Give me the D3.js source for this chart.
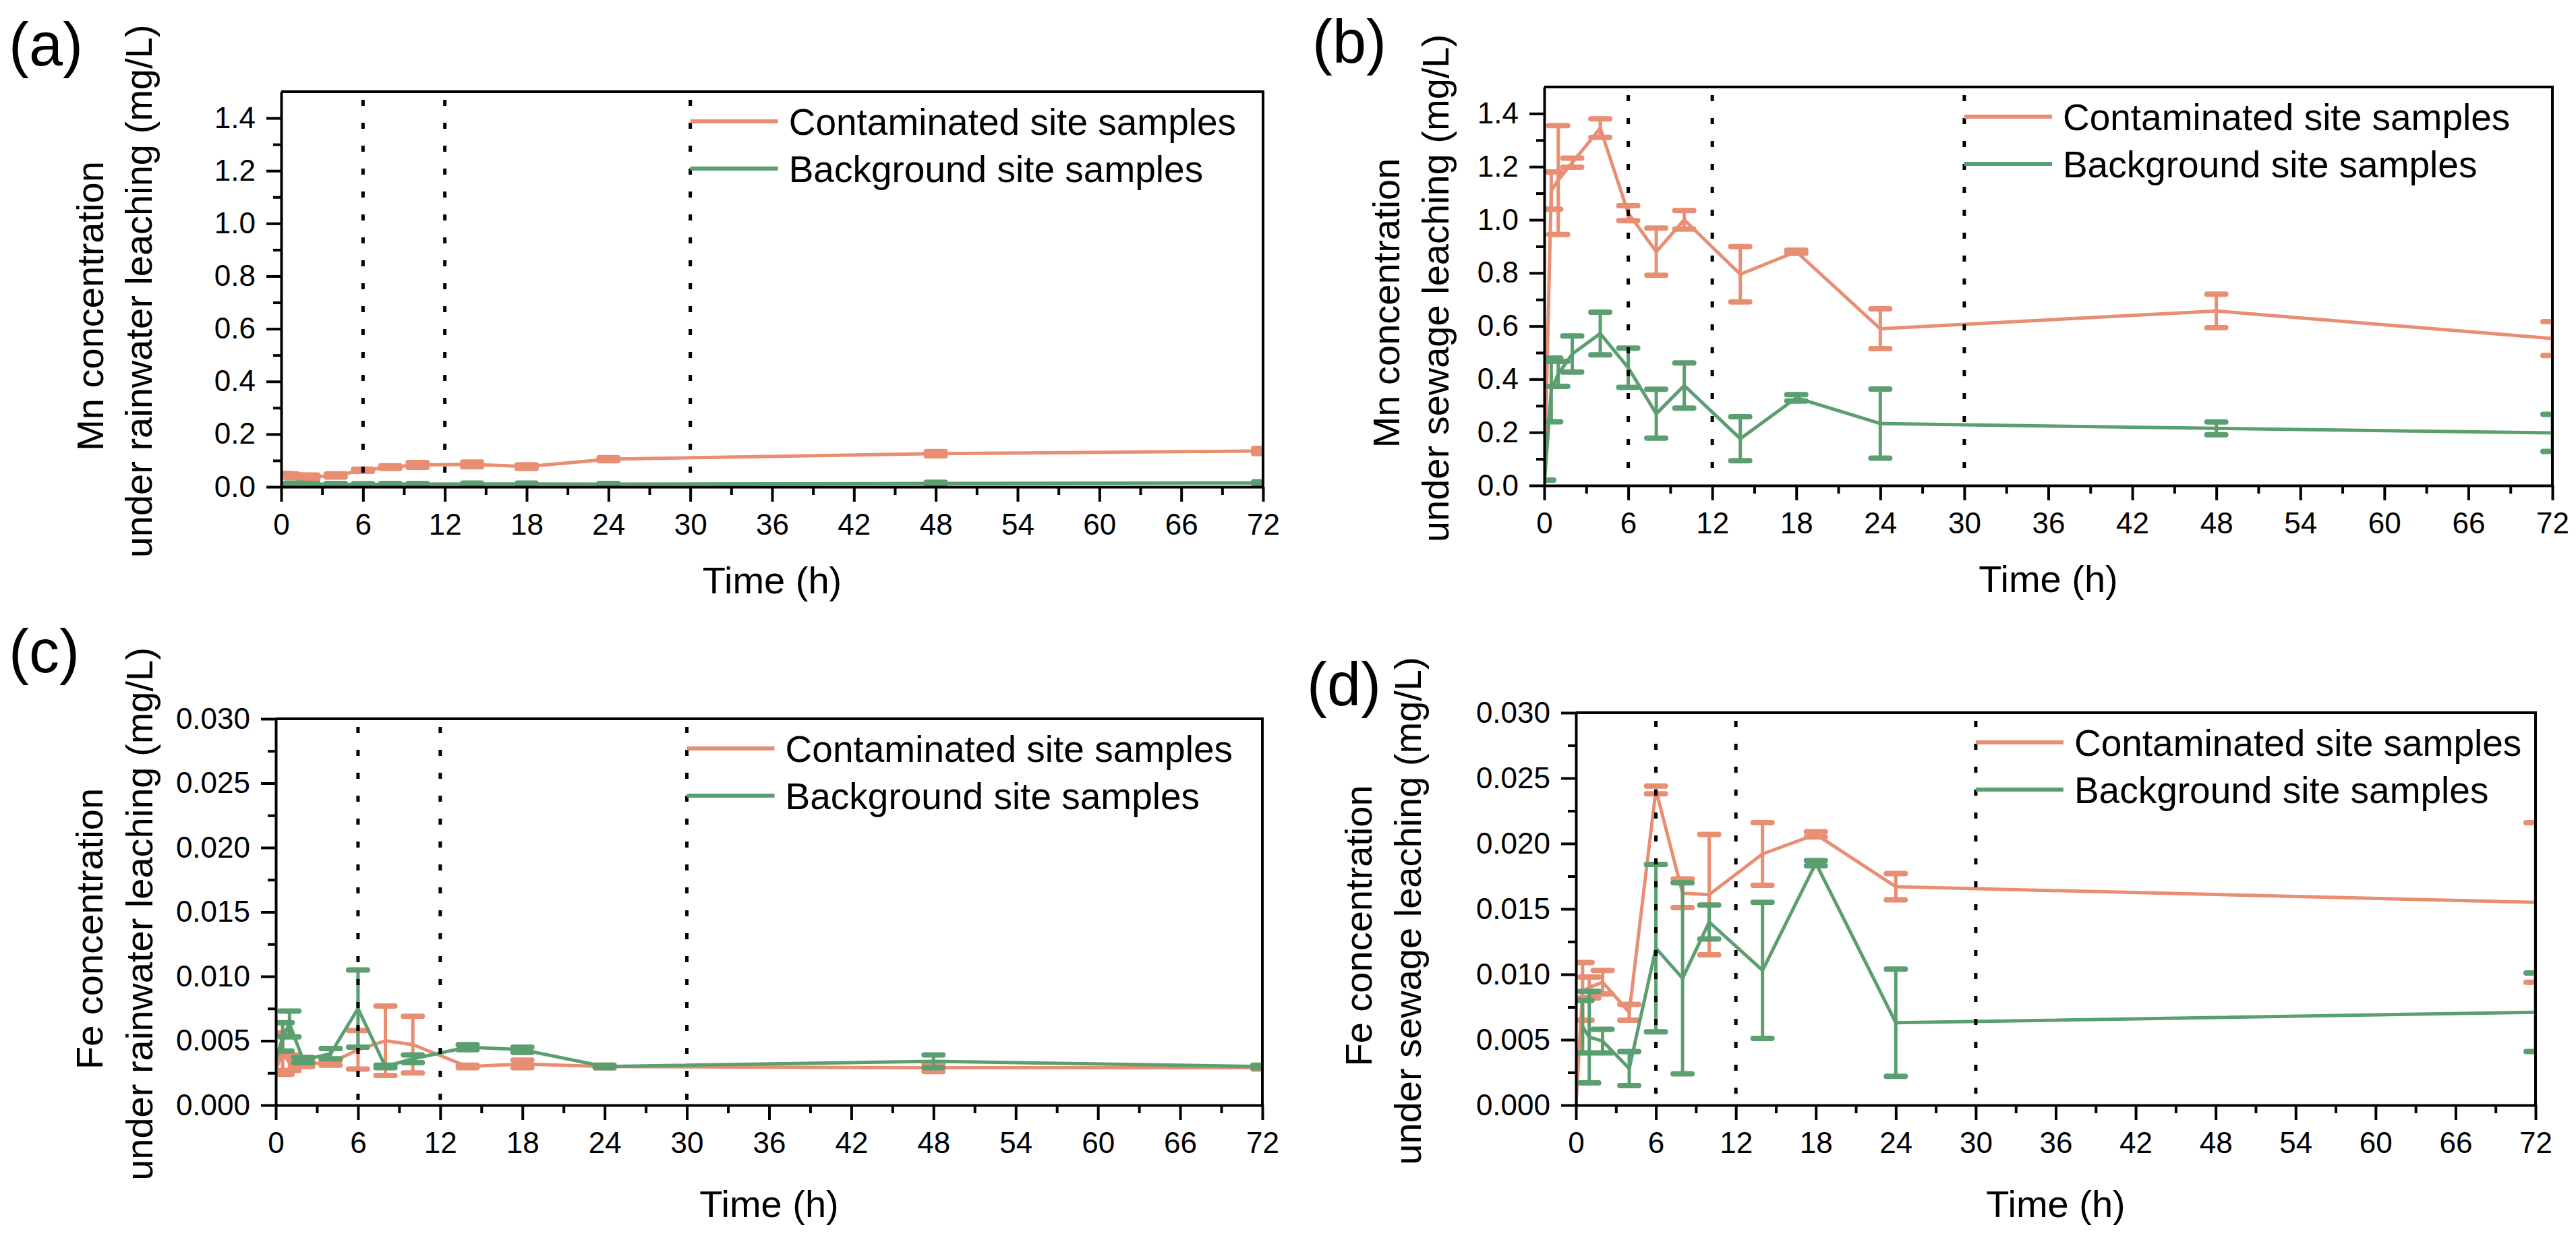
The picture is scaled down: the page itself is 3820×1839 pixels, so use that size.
<!DOCTYPE html>
<html lang="en">
<head>
<meta charset="UTF-8">
<title>Mn and Fe concentration under leaching</title>
<script src="https://d3js.org/d3.v7.min.js"></script>
<style>
  body { margin: 0; background: #fff; }
  svg text { font-family: "Liberation Sans", Arial, sans-serif; fill: #000; }
</style>
</head>
<body>
<div id="chart"></div>
<script>
// sampling times (h) shared by every panel
const timeH = [0, 0.5, 1, 2, 4, 6, 8, 10, 14, 18, 24, 48, 72];
const timeTicks = [0, 6, 12, 18, 24, 30, 36, 42, 48, 54, 60, 66, 72];
const timeMinorTicks = [3, 9, 15, 21, 27, 33, 39, 45, 51, 57, 63, 69];
const stageTimes = [6, 12, 30];
const seriesNames = ["Contaminated site samples", "Background site samples"];

const mnTicks = [0, 0.2, 0.4, 0.6, 0.8, 1.0, 1.2, 1.4];
const mnMinorTicks = [0.1, 0.3, 0.5, 0.7, 0.9, 1.1, 1.3];
const feTicks = [0, 0.005, 0.010, 0.015, 0.020, 0.025, 0.030];
const feMinorTicks = [0.0025, 0.0075, 0.0125, 0.0175, 0.0225, 0.0275];

// (a) Mn, rainwater leaching
const mnRainContam    = [0.045, 0.044, 0.040, 0.037, 0.043, 0.063, 0.075, 0.083, 0.085, 0.077, 0.105, 0.126, 0.136];
const mnRainContamErr = [0.006, 0.005, 0.005, 0.008, 0.006, 0.004, 0.005, 0.009, 0.009, 0.007, 0.006, 0.008, 0.010];
const mnRainBg        = [0.010, 0.010, 0.011, 0.010, 0.010, 0.009, 0.010, 0.010, 0.011, 0.011, 0.010, 0.013, 0.015];
const mnRainBgErr     = [0.003, 0.003, 0.003, 0.003, 0.003, 0.003, 0.003, 0.003, 0.003, 0.003, 0.003, 0.004, 0.004];

// (b) Mn, sewage leaching
const mnSewContam    = [0, 1.11, 1.15, 1.215, 1.345, 1.025, 0.88, 1.00, 0.795, 0.88, 0.59, 0.657, 0.553];
const mnSewContamErr = [0, 0.07, 0.205, 0.017, 0.035, 0.028, 0.089, 0.035, 0.104, 0.006, 0.075, 0.063, 0.064];
const mnSewBg        = [0, 0.36, 0.42, 0.495, 0.572, 0.443, 0.27, 0.376, 0.176, 0.33, 0.233, 0.215, 0.198];
const mnSewBgErr     = [0.02, 0.12, 0.047, 0.068, 0.08, 0.074, 0.092, 0.085, 0.083, 0.012, 0.13, 0.024, 0.07];

// (c) Fe, rainwater leaching
const feRainContam    = [0.0028, 0.0040, 0.0033, 0.0032, 0.0033, 0.0043, 0.0050, 0.0047, 0.0030, 0.0032, 0.0030, 0.0029, 0.0029];
const feRainContamErr = [0, 0.0016, 0.0006, 0.0002, 0.0002, 0.0015, 0.0027, 0.0022, 0.0001, 0.0003, 0.0001, 0.0003, 0.0001];
const feRainBg        = [0.0034, 0.0053, 0.0063, 0.0035, 0.0040, 0.0075, 0.0030, 0.0036, 0.0045, 0.0043, 0.0030, 0.0034, 0.0030];
const feRainBgErr     = [0, 0.0011, 0.0010, 0.0002, 0.0004, 0.0030, 0.0001, 0.0003, 0.0002, 0.0002, 0.0001, 0.0005, 0.0001];

// (d) Fe, sewage leaching (no 48 h sample)
const feSewContam    = [0, 0.0087, 0.0090, 0.0094, 0.0071, 0.0241, 0.0162, 0.0161, 0.0192, 0.0207, 0.0167, null, 0.0155];
const feSewContamErr = [0, 0.0022, 0.0008, 0.0009, 0.0006, 0.0003, 0.0011, 0.0046, 0.0024, 0.0002, 0.0010, null, 0.0061];
const feSewBg        = [null, 0.0060, 0.0052, 0.0049, 0.0028, 0.0120, 0.0097, 0.0140, 0.0103, 0.0185, 0.0063, null, 0.0071];
const feSewBgErr     = [null, 0.0020, 0.0035, 0.0009, 0.0013, 0.0064, 0.0073, 0.0013, 0.0052, 0.0002, 0.0041, null, 0.0030];

const colors = ["#E88E72", "#5B9E70"];

const panels = [
  { id: "a", label: "(a)", lx: 13, ly: 97,
    title: ["Mn concentration", "under rainwater leaching (mg/L)"], tx: [153, 225],
    left: 417, right: 1873, top: 136, bottom: 722, yMax: 1.5, fmt: ".1f",
    ticks: mnTicks, minor: mnMinorTicks,
    series: [[mnRainContam, mnRainContamErr], [mnRainBg, mnRainBgErr]] },
  { id: "b", label: "(b)", lx: 1946, ly: 93,
    title: ["Mn concentration", "under sewage leaching (mg/L)"], tx: [2075, 2148],
    left: 2290, right: 3785, top: 129, bottom: 720, yMax: 1.5, fmt: ".1f",
    ticks: mnTicks, minor: mnMinorTicks,
    series: [[mnSewContam, mnSewContamErr], [mnSewBg, mnSewBgErr]] },
  { id: "c", label: "(c)", lx: 13, ly: 997,
    title: ["Fe concentration", "under rainwater leaching (mg/L)"], tx: [152, 226],
    left: 409, right: 1872, top: 1066, bottom: 1639, yMax: 0.030, fmt: ".3f",
    ticks: feTicks, minor: feMinorTicks,
    series: [[feRainContam, feRainContamErr], [feRainBg, feRainBgErr]] },
  { id: "d", label: "(d)", lx: 1938, ly: 1046,
    title: ["Fe concentration", "under sewage leaching (mg/L)"], tx: [2034, 2107],
    left: 2337, right: 3760, top: 1057, bottom: 1639, yMax: 0.030, fmt: ".3f",
    ticks: feTicks, minor: feMinorTicks,
    series: [[feSewContam, feSewContamErr], [feSewBg, feSewBgErr]] }
];

const svg = d3.select("#chart").append("svg")
  .attr("width", 3820)
  .attr("height", 1839)
  .style("display", "block");

panels.forEach(drawPanel);

function drawPanel(p) {
  const x = d3.scaleLinear().domain([0, 72]).range([p.left, p.right]);
  const y = d3.scaleLinear().domain([0, p.yMax]).range([p.bottom, p.top]);

  svg.append("clipPath").attr("id", "clip-" + p.id)
    .append("rect")
    .attr("x", p.left).attr("y", p.top)
    .attr("width", p.right - p.left).attr("height", p.bottom - p.top);

  const plot = svg.append("g").attr("clip-path", `url(#clip-${p.id})`);

  const line = d3.line().x(d => x(d.t)).y(d => y(d.v));

  p.series.forEach(([mean, err], i) => {
    const pts = timeH.map((t, k) => ({ t: t, v: mean[k], e: err[k] }))
      .filter(d => d.v != null);

    plot.append("path")
      .datum(pts)
      .attr("fill", "none")
      .attr("stroke", colors[i])
      .attr("stroke-width", 5)
      .attr("stroke-linejoin", "round")
      .attr("d", line);

    const bars = plot.append("g")
      .attr("stroke", colors[i])
      .attr("stroke-linecap", "round")
      .selectAll("g")
      .data(pts.filter(d => d.e > 0))
      .join("g");

    bars.append("line")
      .attr("x1", d => x(d.t)).attr("x2", d => x(d.t))
      .attr("y1", d => y(d.v - d.e)).attr("y2", d => y(d.v + d.e))
      .attr("stroke-width", 5);

    bars.selectAll(".cap")
      .data(d => [{ t: d.t, c: d.v - d.e }, { t: d.t, c: d.v + d.e }])
      .join("line")
      .attr("class", "cap")
      .attr("x1", d => x(d.t) - 14).attr("x2", d => x(d.t) + 14)
      .attr("y1", d => y(d.c)).attr("y2", d => y(d.c))
      .attr("stroke-width", 8);
  });

  // stage separators
  svg.append("g").selectAll("line")
    .data(stageTimes)
    .join("line")
    .attr("x1", d => x(d)).attr("x2", d => x(d))
    .attr("y1", p.top + 12).attr("y2", p.bottom - 8)
    .attr("stroke", "#000")
    .attr("stroke-width", 5)
    .attr("stroke-dasharray", "9 25");

  // axes
  const xAxis = svg.append("g")
    .attr("transform", `translate(0,${p.bottom})`)
    .call(d3.axisBottom(x).tickValues(timeTicks).tickSize(22).tickSizeOuter(0).tickPadding(18));
  const xMinor = svg.append("g")
    .attr("transform", `translate(0,${p.bottom})`)
    .call(d3.axisBottom(x).tickValues(timeMinorTicks).tickSize(12).tickFormat(""));
  xMinor.select(".domain").remove();

  const yAxis = svg.append("g")
    .attr("transform", `translate(${p.left},0)`)
    .call(d3.axisLeft(y).tickValues(p.ticks).tickFormat(d3.format(p.fmt))
      .tickSize(22).tickSizeOuter(0).tickPadding(16));
  const yMinor = svg.append("g")
    .attr("transform", `translate(${p.left},0)`)
    .call(d3.axisLeft(y).tickValues(p.minor).tickSize(12).tickFormat(""));
  yMinor.select(".domain").remove();

  [xAxis, xMinor, yAxis, yMinor].forEach(a => {
    a.selectAll("path, line").attr("stroke", "#000").attr("stroke-width", 4);
    a.selectAll("text").attr("font-size", 44).attr("font-family", null).attr("fill", "#000");
  });

  // frame top/right
  svg.append("path")
    .attr("d", `M${p.left},${p.top}H${p.right}V${p.bottom}`)
    .attr("fill", "none")
    .attr("stroke", "#000")
    .attr("stroke-width", 4);

  // axis titles
  svg.append("text")
    .attr("x", (p.left + p.right) / 2)
    .attr("y", p.bottom + (p.id === "a" || p.id === "b" ? 158 : 166))
    .attr("text-anchor", "middle")
    .attr("font-size", 56)
    .text("Time (h)");

  const cy = (p.top + p.bottom) / 2;
  p.title.forEach((t, i) => {
    svg.append("text")
      .attr("transform", `translate(${p.tx[i]},${cy + (i === 0 ? 25 : 3)}) rotate(-90)`)
      .attr("text-anchor", "middle")
      .attr("font-size", 56)
      .text(t);
  });

  svg.append("text")
    .attr("x", p.lx).attr("y", p.ly)
    .attr("font-size", 90)
    .text(p.label);

  // legend
  const legend = svg.append("g").selectAll("g")
    .data(seriesNames)
    .join("g")
    .attr("transform", (d, i) => `translate(${x(30)},${p.top + 44 + i * 70})`);

  legend.append("line")
    .attr("x1", 0).attr("x2", 130)
    .attr("stroke", (d, i) => colors[i])
    .attr("stroke-width", 6);

  legend.append("text")
    .attr("x", 146)
    .attr("dy", "0.36em")
    .attr("font-size", 55)
    .text(d => d);
}
</script>
</body>
</html>
